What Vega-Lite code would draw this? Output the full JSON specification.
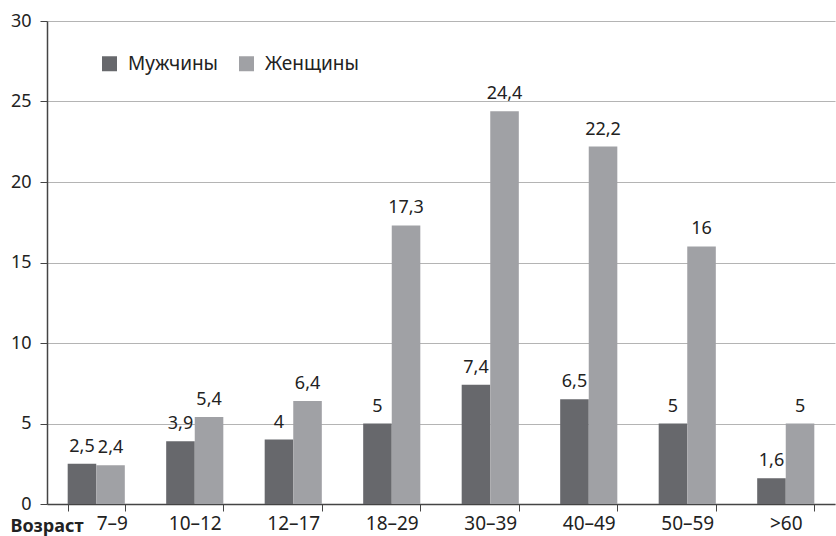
{
  "$schema": "https://vega.github.io/schema/vega-lite/v6.json",
  "width": 788,
  "height": 483,
  "autosize": {"type": "none"},
  "padding": {"left": 47, "top": 21, "right": 1, "bottom": 32},
  "background": "white",
  "config": {
    "font": "Noto Sans",
    "view": {"stroke": null}
  },
  "data": {
    "values": [
      {"age": "7–9", "sex": "Мужчины", "v": 2.5, "lbl": "2,5"},
      {"age": "7–9", "sex": "Женщины", "v": 2.4, "lbl": "2,4"},
      {"age": "10–12", "sex": "Мужчины", "v": 3.9, "lbl": "3,9"},
      {"age": "10–12", "sex": "Женщины", "v": 5.4, "lbl": "5,4"},
      {"age": "12–17", "sex": "Мужчины", "v": 4, "lbl": "4"},
      {"age": "12–17", "sex": "Женщины", "v": 6.4, "lbl": "6,4"},
      {"age": "18–29", "sex": "Мужчины", "v": 5, "lbl": "5"},
      {"age": "18–29", "sex": "Женщины", "v": 17.3, "lbl": "17,3"},
      {"age": "30–39", "sex": "Мужчины", "v": 7.4, "lbl": "7,4"},
      {"age": "30–39", "sex": "Женщины", "v": 24.4, "lbl": "24,4"},
      {"age": "40–49", "sex": "Мужчины", "v": 6.5, "lbl": "6,5"},
      {"age": "40–49", "sex": "Женщины", "v": 22.2, "lbl": "22,2"},
      {"age": "50–59", "sex": "Мужчины", "v": 5, "lbl": "5"},
      {"age": "50–59", "sex": "Женщины", "v": 16, "lbl": "16"},
      {"age": ">60", "sex": "Мужчины", "v": 1.6, "lbl": "1,6"},
      {"age": ">60", "sex": "Женщины", "v": 5, "lbl": "5"}
    ]
  },
  "encoding": {
    "x": {
      "field": "age", "type": "nominal", "sort": null,
      "scale": {"paddingInner": 0.42, "paddingOuter": 0.21},
      "axis": {
        "title": "Возраст",
        "titleX": -37, "titleY": 27, "titleAlign": "left", "titleBaseline": "alphabetic",
        "titleFontSize": 18, "titleFontWeight": "bold", "titleColor": "#222",
        "labelAngle": 0, "labelFontSize": 19, "labelColor": "#222", "labelPadding": 3,
        "labelAlign": {"condition": {"test": "datum.value === '7–9'", "value": "left"}, "value": "center"},
        "tickBand": "extent", "tickSize": 7, "tickColor": "#444",
        "domainColor": "#444", "domainWidth": 1.5, "grid": false
      }
    },
    "xOffset": {"field": "sex", "type": "nominal", "sort": ["Мужчины", "Женщины"], "scale": {"paddingInner": 0, "paddingOuter": 0}},
    "y": {
      "field": "v", "type": "quantitative",
      "scale": {"domain": [0, 30], "nice": false},
      "axis": {
        "title": null, "values": [0, 5, 10, 15, 20, 25, 30],
        "labelFontSize": 18, "labelColor": "#222", "labelPadding": 9,
        "tickSize": 7, "tickColor": "#444", "domainColor": "#444", "domainWidth": 1.5,
        "grid": true, "gridColor": "#b4b4b4", "gridWidth": 1.2
      }
    }
  },
  "layer": [
    {
      "mark": {"type": "bar"},
      "encoding": {
        "color": {
          "field": "sex", "type": "nominal", "sort": ["Мужчины", "Женщины"],
          "scale": {"domain": ["Мужчины", "Женщины"], "range": ["#67686c", "#a0a1a5"]},
          "legend": {
            "title": null, "orient": "none", "legendX": 53, "legendY": 33,
            "direction": "horizontal", "symbolType": "square", "symbolSize": 225,
            "symbolStrokeWidth": 0, "labelFontSize": 19, "labelColor": "#222",
            "columnPadding": 18, "labelOffset": 9
          }
        }
      }
    },
    {
      "mark": {"type": "text", "baseline": "alphabetic", "dy": -12, "fontSize": 18, "color": "#222"},
      "encoding": {"text": {"field": "lbl"}}
    }
  ]
}
